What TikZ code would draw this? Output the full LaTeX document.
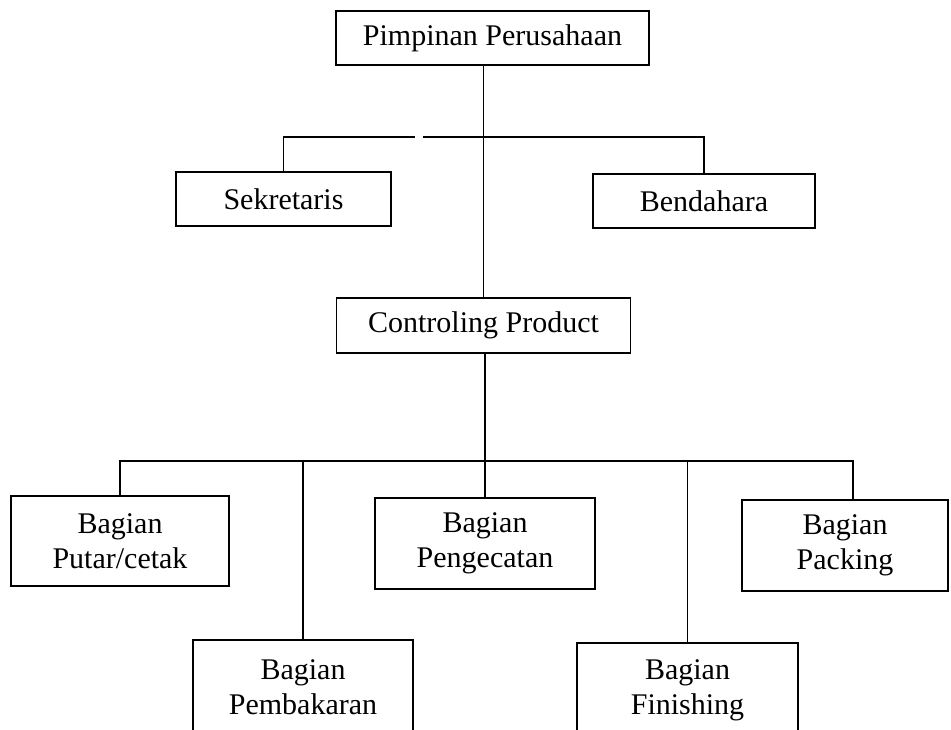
\documentclass[tikz,border=0pt]{standalone}
\usepackage{fontspec}
\setmainfont{Liberation Serif}
\begin{document}
\begin{tikzpicture}[x=1pt,y=-1pt,
  box/.style={draw,line width=1.9pt,inner sep=0pt,align=center,
    font=\fontsize{30}{35}\selectfont},
  conn/.style={line width=1.8pt}]
\useasboundingbox (0,0) rectangle (951,729);
\clip (0,0) rectangle (951,729);
\fill[white] (0,0) rectangle (951,729);
% nodes
\node[box,minimum width=313pt,minimum height=54pt] (top) at (492.5,38) {Pimpinan Perusahaan};
\node[box,minimum width=215pt,minimum height=54pt] (sek) at (283.5,199) {Sekretaris};
\node[box,minimum width=222pt,minimum height=54pt] (bend) at (704,201) {Bendahara};
\node[box,minimum width=294pt,minimum height=55pt] (ctrl) at (483.5,325.5) {Controling Product};
\node[box,minimum width=218pt,minimum height=90pt] (putar) at (120,541) {Bagian\\Putar/cetak};
\node[box,minimum width=220pt,minimum height=91pt] (peng) at (485,543.5) {Bagian\\Pengecatan};
\node[box,minimum width=206pt,minimum height=91pt] (pack) at (845,545.5) {Bagian\\Packing};
\node[box,minimum width=220pt,minimum height=94pt] (pemb) at (303,687) {Bagian\\Pembakaran};
\node[box,minimum width=221pt,minimum height=94pt] (fin) at (687.5,690) {Bagian\\Finishing};
% junction coordinates
\coordinate (j1) at (483.5,137);
\coordinate (ga) at (415,137);
\coordinate (gb) at (423,137);
\coordinate (j2) at (485,461);
\coordinate (pk) at (853,461);
% connectors
\draw[conn] (top.south -| ctrl.north) -- (ctrl.north);
\draw[conn] (sek.north) |- (ga);
\draw[conn] (gb) -- (bend.north |- gb) -- (bend.north);
\draw[conn] (ctrl.south -| peng.north) -- (peng.north);
\draw[conn] (putar.north) |- (pk) -- (pk |- pack.north);
\draw[conn] (pemb.north) -- (pemb.north |- j2);
\draw[conn] (fin.north) -- (fin.north |- j2);
\end{tikzpicture}
\end{document}
